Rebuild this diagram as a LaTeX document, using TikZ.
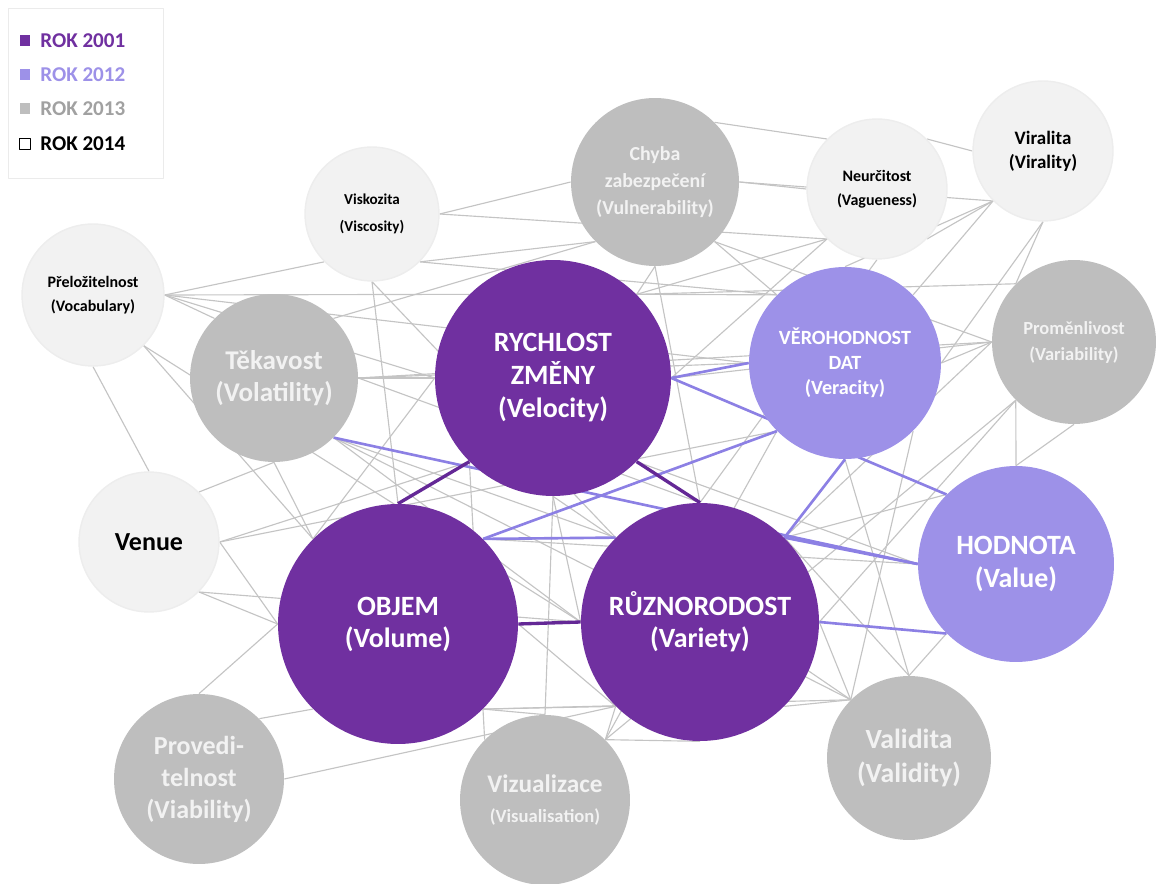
\documentclass[tikz,border=0pt]{standalone}
\usepackage{fontspec}
\setmainfont{Carlito}
\usetikzlibrary{backgrounds,positioning}
\definecolor{rok01}{RGB}{112,48,160}
\definecolor{rok12}{RGB}{157,145,232}
\definecolor{rok13}{RGB}{190,190,190}
\definecolor{rok14}{RGB}{242,242,242}
\definecolor{linka}{RGB}{196,196,196}
\definecolor{linka12}{RGB}{140,128,228}
\definecolor{linka01}{RGB}{100,40,150}
\tikzset{
	kruh/.style={circle,inner sep=0pt,align=center},
	k01/.style={kruh,fill=rok01,text=white},
	k12/.style={kruh,fill=rok12,text=white},
	k13/.style={kruh,fill=rok13,text=rok14},
	k14/.style={kruh,fill=rok14,draw=black!7,line width=0.8pt,text=black},
	spoj/.style={draw=linka,line width=0.65pt},
	spoj12/.style={draw=linka12,line width=1.5pt},
	spoj01/.style={draw=linka01,line width=1.9pt},
	legsq/.style={minimum size=0.22cm,inner sep=0pt},
	legtxt/.style={anchor=west,inner sep=0pt,font=\bfseries\fontsize{12}{14}\selectfont}
}

\begin{document}
\begin{tikzpicture}[line cap=round,line join=round,x=0.02cm,y=-0.02cm]
	\useasboundingbox (0,0) rectangle (1156,884);
	\node [k01,minimum size=4.72cm,font=\bfseries\fontsize{15.9}{18.8}\selectfont] (vel) at (553,378) {RYCHLOST\\ZMĚNY\\(Velocity)};
	\node [k01,minimum size=4.80cm,font=\bfseries\fontsize{15.9}{18.2}\selectfont] (vol) at (398,624) {OBJEM\\(Volume)};
	\node [k01,minimum size=4.76cm,font=\bfseries\fontsize{15.9}{18.2}\selectfont] (var) at (700,622) {RŮZNORODOST\\(Variety)};
	\node [k12,minimum size=3.84cm,font=\bfseries\fontsize{11.5}{14.2}\selectfont] (ver) at (845,363) {VĚROHODNOST\\DAT\\(Veracity)};
	\node [k12,minimum size=3.92cm,font=\bfseries\fontsize{15.9}{19}\selectfont] (val) at (1016,564) {HODNOTA\\(Value)};
	\node [k13,minimum size=3.36cm,font=\bfseries\fontsize{15.4}{18.2}\selectfont] (vola) at (274,378) {Těkavost\\(Volatility)};
	\node [k14,minimum size=2.84cm,font=\bfseries\fontsize{9.1}{13.4}\selectfont] (voca) at (93,295) {Přeložitelnost\\(Vocabulary)};
	\node [k14,minimum size=2.68cm,font=\bfseries\fontsize{8.6}{15.4}\selectfont] (visc) at (372,214) {Viskozita\\(Viscosity)};
	\node [k13,minimum size=3.36cm,font=\bfseries\fontsize{11.3}{15.4}\selectfont] (vuln) at (655,182) {Chyba\\zabezpečení\\(Vulnerability)};
	\node [k14,minimum size=2.80cm,font=\bfseries\fontsize{9.1}{13.4}\selectfont] (vague) at (877,189) {Neurčitost\\(Vagueness)};
	\node [k14,minimum size=2.80cm,font=\bfseries\fontsize{10.8}{13.7}\selectfont] (viral) at (1043,151) {Viralita\\(Virality)};
	\node [k13,minimum size=3.28cm,font=\bfseries\fontsize{10.5}{14.8}\selectfont] (varb) at (1074,342) {Proměnlivost\\(Variability)};
	\node [k14,minimum size=2.80cm,font=\bfseries\fontsize{14.8}{17}\selectfont] (venue) at (149,542) {Venue};
	\node [k13,minimum size=3.40cm,font=\bfseries\fontsize{14.8}{18.2}\selectfont] (viab) at (199,779) {Provedi-\\telnost\\(Viability)};
	\node [k13,minimum size=3.40cm,font=\bfseries\fontsize{14.4}{17}\selectfont] (visu) at (545,800) {Vizualizace\\{\fontsize{10.6}{17}\selectfont(Visualisation)}};
	\node [k13,minimum size=3.28cm,font=\bfseries\fontsize{15.8}{19.3}\selectfont] (vali) at (909,758) {Validita\\(Validity)};
	\draw [draw=black!8,line width=0.5pt] (8,8) rectangle (163,178);
	\node [legsq,fill=rok01] (sq01) at (25,41) {};
	\node [legsq,fill=rok12] (sq12) at (25,75) {};
	\node [legsq,fill=rok13] (sq13) at (25,109) {};
	\node [legsq,fill=white,draw=black,line width=0.6pt] (sq14) at (25,144) {};
	\node [legtxt,text=rok01] (t01) at (40,41) {ROK 2001};
	\node [legtxt,text=rok12] (t12) at (40,75) {ROK 2012};
	\node [legtxt,text=rok13!85!black] (t13) at (40,109) {ROK 2013};
	\node [legtxt,text=black] (t14) at (40,144) {ROK 2014};
	\begin{pgfonlayer}{background}
		\draw [spoj] (voca.east)-- (visc.south west);
		\draw [spoj] (voca.east)-- (vel.north west);
		\draw [spoj] (voca.east)-- (ver.west);
		\draw [spoj] (voca.east)-- (vola.north west);
		\draw [spoj] (voca.east)-- (vel.west);
		\draw [spoj] (voca.south east)-- (vol.north west);
		\draw [spoj] (voca.south east)-- (var.west);
		\draw [spoj] (voca.south)-- (venue.north);
		\draw [spoj] (visc.east)-- (vuln.west);
		\draw [spoj] (visc.east)-- (vague.south west);
		\draw [spoj] (visc.south)-- (vol.north);
		\draw [spoj] (visc.south)-- (var.north west);
		\draw [spoj] (visc.south east)-- (vuln.south west);
		\draw [spoj] (visc.south east)-- (ver.north west);
		\draw [spoj] (vuln.south west)-- (vola.north east);
		\draw [spoj] (vuln.south)-- (vel.north east);
		\draw [spoj] (vuln.south)-- (var.north);
		\draw [spoj] (vuln.south east)-- (ver.north west);
		\draw [spoj] (vuln.south east)-- (varb.west);
		\draw [spoj] (vuln.east)-- (vague.west);
		\draw [spoj] (vuln.east)-- (viral.south west);
		\draw [spoj] (vuln.north east)-- (vague.north west);
		\draw [spoj] (vague.north east)-- (viral.west);
		\draw [spoj] (vague.south east)-- (viral.south west);
		\draw [spoj] (vague.south west)-- (vel.north east);
		\draw [spoj] (vague.south west)-- (vel.east);
		\draw [spoj] (vague.south)-- (var.north);
		\draw [spoj] (viral.south west)-- (ver.north);
		\draw [spoj] (viral.south west)-- (ver.north east);
		\draw [spoj] (viral.south)-- (varb.north west);
		\draw [spoj] (viral.south)-- (ver.east);
		\draw [spoj] (varb.west)-- (ver.east);
		\draw [spoj] (varb.west)-- (vel.east);
		\draw [spoj] (varb.west)-- (vola.east);
		\draw [spoj] (varb.west)-- (var.north east);
		\draw [spoj] (varb.south west)-- (val.north);
		\draw [spoj] (varb.south)-- (val.north);
		\draw [spoj] (varb.south west)-- (var.east);
		\draw [spoj] (vel.north east)-- (varb.north west);
		\draw [spoj] (ver.south)-- (vali.north);
		\draw [spoj] (ver.south west)-- (visu.north east);
		\draw [spoj] (ver.south east)-- (vali.north west);
		\draw [spoj] (ver.west)-- (vola.east);
		\draw [spoj] (ver.north west)-- (vel.north east);
		\draw [spoj] (ver.south west)-- (venue.east);
		\draw [spoj] (vel.west)-- (vola.east);
		\draw [spoj] (vel.south)-- (visu.north);
		\draw [spoj] (vel.south)-- (vali.north west);
		\draw [spoj] (vel.south east)-- (val.west);
		\draw [spoj] (vel.south west)-- (venue.east);
		\draw [spoj] (vel.west)-- (vol.north west);
		\draw [spoj] (vel.south)-- (var.west);
		\draw [spoj] (vola.south)-- (vol.north west);
		\draw [spoj] (vola.south)-- (venue.north east);
		\draw [spoj] (vola.south east)-- (var.north west);
		\draw [spoj] (vola.south east)-- (var.west);
		\draw [spoj] (vola.east)-- (var.north);
		\draw [spoj] (vola.south east)-- (vali.north west);
		\draw [spoj] (venue.east)-- (vol.west);
		\draw [spoj] (venue.south east)-- (vol.west);
		\draw [spoj] (venue.south east)-- (var.west);
		\draw [spoj] (vol.west)-- (viab.north);
		\draw [spoj] (vol.south west)-- (viab.north east);
		\draw [spoj] (vol.south east)-- (var.south west);
		\draw [spoj] (vol.east)-- (var.south west);
		\draw [spoj] (vol.south east)-- (visu.north);
		\draw [spoj] (vol.south east)-- (vali.north west);
		\draw [spoj] (viab.east)-- (var.south west);
		\draw [spoj] (visu.north east)-- (var.south west);
		\draw [spoj] (visu.north east)-- (var.south);
		\draw [spoj] (visu.north west)-- (vel.south west);
		\draw [spoj] (visu.north east)-- (varb.south west);
		\draw [spoj] (vali.north west)-- (var.south east);
		\draw [spoj] (vali.north west)-- (var.east);
		\draw [spoj] (vali.north)-- (var.north east);
		\draw [spoj] (val.north west)-- (var.north east);
		\draw [spoj] (val.west)-- (vol.north east);
		\draw [spoj] (val.south west)-- (vali.north);
		\draw [spoj12] (vel.east)-- (ver.west);
		\draw [spoj12] (vel.east)-- (val.north west);
		\draw [spoj12] (vola.south east)-- (val.west);
		\draw [spoj12] (vol.north east)-- (ver.south west);
		\draw [spoj12] (vol.north east)-- (var.north west);
		\draw [spoj12] (ver.south)-- (var.north east);
		\draw [spoj12] (var.north east)-- (val.west);
		\draw [spoj12] (var.east)-- (val.south west);
		\draw [spoj01] (vel.south west)-- (vol.north);
		\draw [spoj01] (vel.south east)-- (var.north);
		\draw [spoj01] (vol.east)-- (var.west);
	\end{pgfonlayer}
\end{tikzpicture}
\end{document}
